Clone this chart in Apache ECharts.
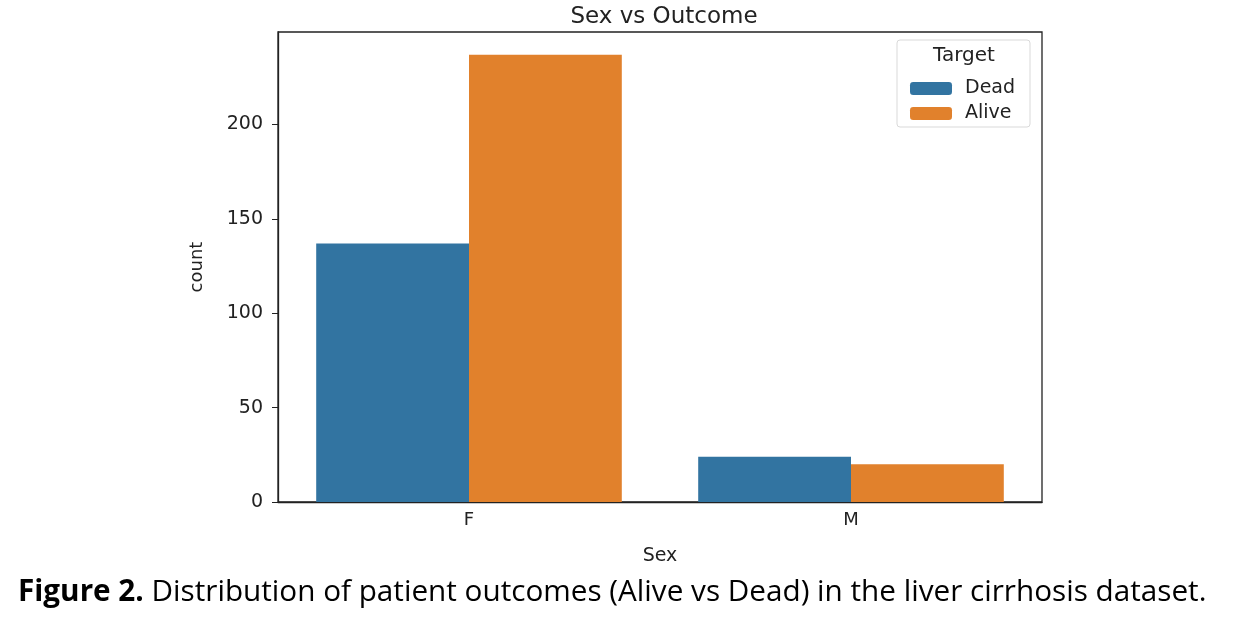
<!DOCTYPE html>
<html>
<head>
<meta charset="utf-8">
<script src="https://cdn.jsdelivr.net/npm/echarts@6/dist/echarts.min.js"></script>
<style>
html, body { margin: 0; padding: 0; background: #fff; }
#main { width: 1233px; height: 627px; }
</style>
</head>
<body>
<div id="main"></div>
<script>
var categories = ['F', 'M'];
var deadCounts = [137, 24];
var aliveCounts = [237, 20];
var yTicks = [0, 50, 100, 150, 200];

var myChart = echarts.init(document.getElementById('main'));
var tickFont = 'DejaVu Sans';

option = {
    backgroundColor: '#fff',
    animation: false,
    title: {
        text: 'Sex vs Outcome',
        left: 659,
        top: 1,
        textAlign: 'center',
        textStyle: { fontFamily: tickFont, fontSize: 23, fontWeight: 'normal', color: '#222' }
    },
    grid: {
        left: 278, right: 191, top: 32, bottom: 125,
        show: true, borderColor: '#222', borderWidth: 1.3
    },
    legend: {
        data: ['Dead', 'Alive'],
        orient: 'vertical',
        left: 905,
        top: 74,
        itemWidth: 42,
        itemHeight: 13,
        itemGap: 6,
        textStyle: { fontFamily: tickFont, fontSize: 19, color: '#222', padding: [0, 0, 0, 8] }
    },
    graphic: [
        {
            type: 'rect',
            shape: { x: 897, y: 40, width: 133, height: 87, r: 3 },
            style: { fill: 'rgba(255,255,255,0.8)', stroke: '#d9d9d9', lineWidth: 1 },
            z: 0
        },
        {
            type: 'text',
            x: 964, y: 56,
            style: { text: 'Target', fontFamily: tickFont, fontSize: 20, fill: '#222', align: 'center', verticalAlign: 'middle' }
        },
        {
            type: 'text',
            x: 18, y: 593,
            style: {
                text: '{b|Figure 2.} Distribution of patient outcomes (Alive vs Dead) in the liver cirrhosis dataset.',
                fontFamily: 'Open Sans', fontSize: 29.7, fill: '#000', verticalAlign: 'middle',
                rich: { b: { fontFamily: 'Open Sans', fontSize: 29.7, fontWeight: 'bold', fill: '#000' } }
            }
        }
    ],
    xAxis: {
        type: 'category',
        data: categories,
        name: 'Sex',
        nameLocation: 'middle',
        nameGap: 45,
        nameTextStyle: { fontFamily: tickFont, fontSize: 19, color: '#222' },
        axisLine: { lineStyle: { color: '#222', width: 1.3 } },
        axisTick: { alignWithLabel: true, length: 6, lineStyle: { color: '#222' } },
        axisLabel: { fontFamily: tickFont, fontSize: 18, color: '#222', margin: 9 }
    },
    yAxis: {
        type: 'value',
        min: 0,
        max: 249,
        interval: 50,
        name: 'count',
        nameLocation: 'middle',
        nameGap: 72,
        nameTextStyle: { fontFamily: tickFont, fontSize: 18, color: '#222' },
        axisLine: { show: true, lineStyle: { color: '#222', width: 1.3 } },
        axisTick: { show: true, length: 6, customValues: yTicks, lineStyle: { color: '#222' } },
        axisLabel: { fontFamily: tickFont, fontSize: 19, color: '#222', margin: 15, customValues: yTicks },
        splitLine: { show: false }
    },
    series: [
        {
            name: 'Dead',
            type: 'bar',
            data: deadCounts,
            barGap: '0%',
            barCategoryGap: '20%',
            itemStyle: { color: '#3274a1' }
        },
        {
            name: 'Alive',
            type: 'bar',
            data: aliveCounts,
            itemStyle: { color: '#e1812c' }
        }
    ]
};

myChart.setOption(option);
</script>
</body>
</html>
